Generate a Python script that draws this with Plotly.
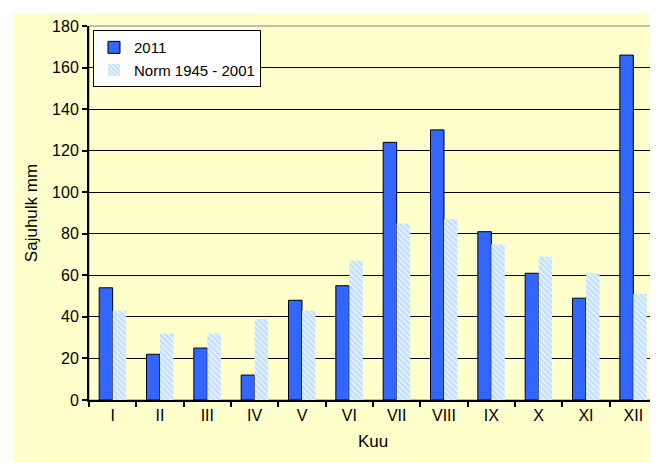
import plotly.graph_objects as go

months = ['I', 'II', 'III', 'IV', 'V', 'VI', 'VII', 'VIII', 'IX', 'X', 'XI', 'XII']
rain_2011 = [54, 22, 25, 12, 48, 55, 124, 130, 81, 61, 49, 166]
rain_norm = [43, 32, 32, 39, 43, 67, 85, 87, 75, 69, 61, 51]

fig = go.Figure()

fig.add_trace(go.Bar(
    x=months, y=rain_2011, name='2011',
    marker=dict(color='#3366FF', line=dict(color='black', width=1))
))
fig.add_trace(go.Bar(
    x=months, y=rain_norm, name='Norm 1945 - 2001',
    marker=dict(
        color='white',
        line=dict(width=0),
        pattern=dict(shape='\\', fgcolor='#88C0FF', bgcolor='white', size=4, solidity=0.75)
    )
))

# yellow chart area with a thin white edge, grey frame around the plot
fig.add_shape(type='rect', xref='paper', yref='paper',
              x0=-0.134, x1=1.005, y0=-0.176, y1=1.035,
              fillcolor='#FFFFCC', line=dict(width=0), layer='below')
fig.add_shape(type='rect', xref='paper', yref='paper',
              x0=0, x1=1, y0=0, y1=1,
              line=dict(color='#808080', width=1), layer='below')

fig.update_layout(
    width=658, height=463,
    margin=dict(l=81, r=9, t=18, b=71),
    paper_bgcolor='white',
    plot_bgcolor='#FFFFCC',
    font=dict(family='Liberation Sans, Arial', size=16, color='black'),
    barmode='group',
    bargap=0.43,
    bargroupgap=0,
    showlegend=True,
    legend=dict(
        x=0.007, y=0.989, xanchor='left', yanchor='top',
        bgcolor='white', bordercolor='black', borderwidth=1,
        font=dict(size=15), tracegroupgap=0, itemwidth=30
    ),
)

fig.update_yaxes(
    range=[0, 180], dtick=20,
    showgrid=True, gridcolor='black', gridwidth=1,
    showline=True, linecolor='black', linewidth=2,
    ticks='outside', ticklen=5, tickwidth=2, tickcolor='black',
    zeroline=False,
    title=dict(text='Sajuhulk mm', font=dict(size=17), standoff=10),
)
fig.update_xaxes(
    showline=True, linecolor='black', linewidth=2,
    ticks='outside', ticklen=5, tickwidth=2, tickcolor='black',
    tickson='boundaries',
    title=dict(text='Kuu', font=dict(size=17), standoff=12),
)

fig.write_html("out.html")
